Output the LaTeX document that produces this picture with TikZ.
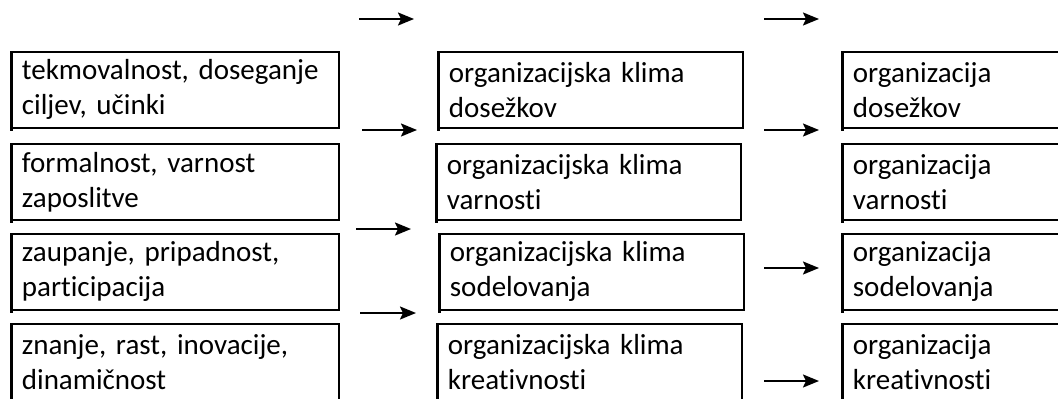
\documentclass[tikz,border=0pt]{standalone}
\usepackage{fontspec}
\setmainfont{Carlito}[Ligatures=NoCommon]
\usetikzlibrary{arrows.meta}
\frenchspacing
\begin{document}
\begin{tikzpicture}[x=1pt,y=-1pt,
  box/.style={draw, line width=1.8pt, anchor=north west, minimum height=76pt,
    inner xsep=10pt, inner ysep=0pt, align=left,
    font=\fontsize{29}{35}\selectfont},
  leftbox/.style={box, text width=307pt, minimum width=327pt},
  midbox/.style={box, text width=284pt, minimum width=304pt},
  rightbox/.style={box, text width=240pt, minimum width=260pt},
  thick edge/.style={line width=3pt},
  arr/.style={line width=2pt, -{Stealth[length=16pt,width=13pt,inset=3pt]}}
]
\clip (0,0) rectangle (1058,399);
\fill[white] (0,0) rectangle (1058,399);

% left column
\node[leftbox] (l1) at (11,51)  {tekmovalnost, doseganje\\ciljev, učinki};
\node[leftbox] (l2) at (11,143) {formalnost, varnost\\zaposlitve};
\node[leftbox] (l3) at (11,233) {zaupanje, pripadnost,\\participacija};
\node[leftbox] (l4) at (11,323) {znanje, rast, inovacije,\\dinamičnost};

% middle column
\node[midbox] (m1) at (438,51)  {organizacijska klima\\dosežkov};
\node[midbox] (m2) at (436,143) {organizacijska klima\\varnosti};
\node[midbox] (m3) at (439,233) {organizacijska klima\\sodelovanja};
\node[midbox] (m4) at (437,323) {organizacijska klima\\kreativnosti};

% right column (runs past the right edge)
\node[rightbox] (r1) at (842,51)  {organizacija\\dosežkov};
\node[rightbox] (r2) at (842,143) {organizacija\\varnosti};
\node[rightbox] (r3) at (842,233) {organizacija\\sodelovanja};
\node[rightbox] (r4) at (842,323) {organizacija\\kreativnosti};

% thicker left edges
\foreach \n in {l1,l2,l3,l4,m1,m2,m3,m4,r1,r2,r3,r4}{
  \draw[thick edge] (\n.north west) -- ([yshift=-2pt]\n.south west);
}

% free-standing arrows
\coordinate (a1s) at (359,19);  \coordinate (a1e) at (414,19);
\coordinate (a2s) at (362,130); \coordinate (a2e) at (417,130);
\coordinate (a3s) at (356,229); \coordinate (a3e) at (411,229);
\coordinate (a4s) at (360,313); \coordinate (a4e) at (416,313);
\coordinate (b1s) at (764,19);  \coordinate (b1e) at (819,19);
\coordinate (b2s) at (764,130); \coordinate (b2e) at (819,130);
\coordinate (b3s) at (764,268); \coordinate (b3e) at (819,268);
\coordinate (b4s) at (764,381); \coordinate (b4e) at (819,381);
\foreach \a in {a1,a2,a3,a4,b1,b2,b3,b4}{
  \draw[arr] (\a s) -- (\a e);
}
\end{tikzpicture}
\end{document}
